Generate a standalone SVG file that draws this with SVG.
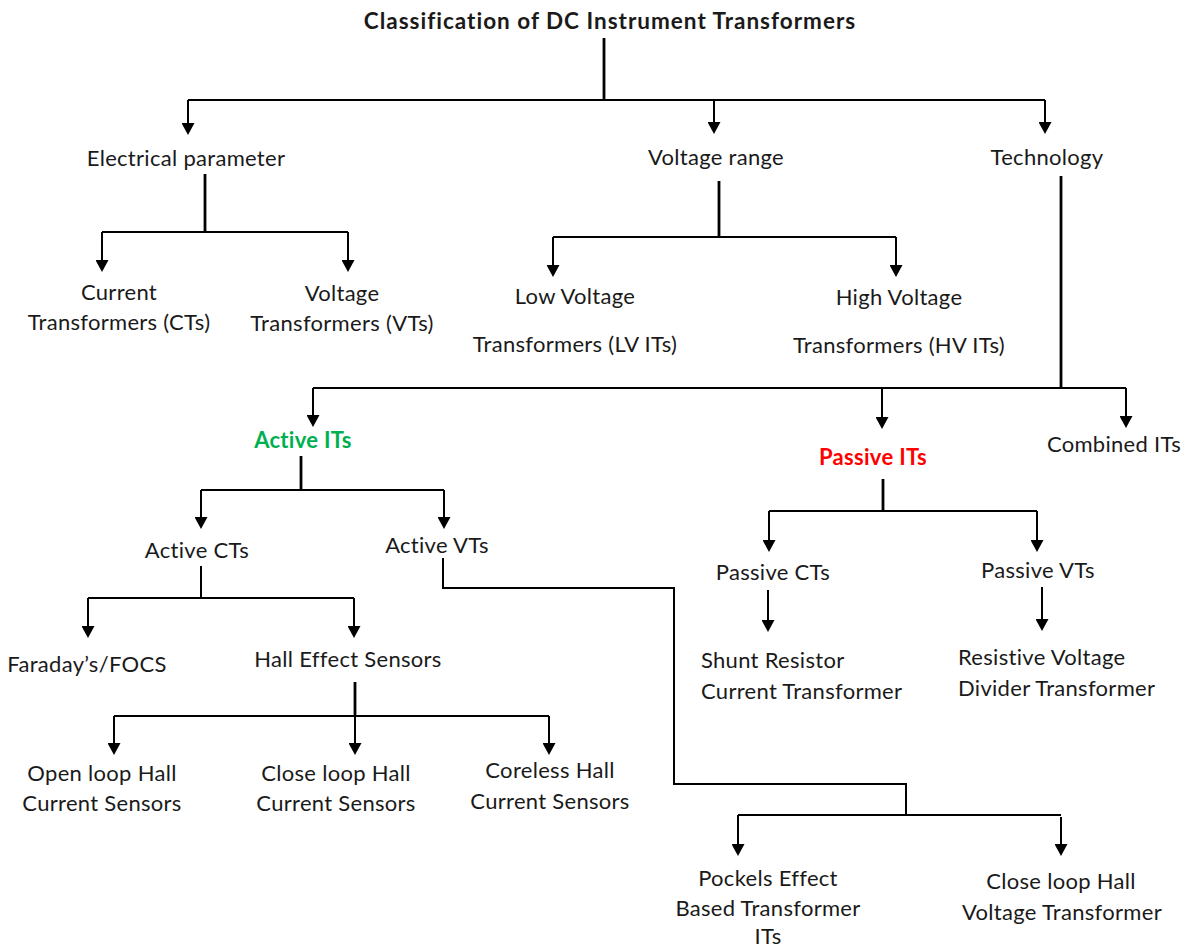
<svg xmlns="http://www.w3.org/2000/svg" width="1189" height="949" viewBox="0 0 1189 949">
<style>
text{font-family:Lato,"Liberation Sans",sans-serif;font-size:22px;letter-spacing:0.3px;fill:#1a1a1a;text-anchor:middle}
.b{font-weight:bold}
.h{font-size:22.5px;letter-spacing:1px}
.l{text-anchor:start}
.c path{fill:none;stroke:#000;stroke-width:2}
.c .a{marker-end:url(#ah)}
.c .t{stroke-width:2.8}
</style>
<defs>
<marker id="ah" markerWidth="13" markerHeight="13" refX="10" refY="6.5" orient="auto" markerUnits="userSpaceOnUse"><path d="M0,0 L12,6.5 L0,13 z" fill="#000"/></marker>
</defs>
<rect width="1189" height="949" fill="#fff"/>
<g class="c" id="connectors">
<path class="t" d="M604,38 V100"/>
<path d="M188,100 H1045"/>
<path class="a" d="M188,100 V133"/>
<path class="a" d="M714,100 V132"/>
<path class="a" d="M1045,100 V132"/>
<path class="t" d="M205,174 V232"/>
<path d="M102,232 H348"/>
<path class="a" d="M102,232 V270"/>
<path class="a" d="M348,232 V270"/>
<path class="t" d="M719,181 V237"/>
<path d="M553,237 H896"/>
<path class="a" d="M553,237 V275"/>
<path class="a" d="M896,237 V275"/>
<path class="t" d="M1061,176 V388"/>
<path d="M313,388 H1126"/>
<path class="a" d="M313,388 V425"/>
<path class="a" d="M882,388 V427"/>
<path class="a" d="M1126,388 V426"/>
<path class="t" d="M301,456 V490"/>
<path d="M201,490 H444"/>
<path class="a" d="M201,490 V527"/>
<path class="a" d="M444,490 V527"/>
<path d="M201,566 V598"/>
<path d="M88,598 H354"/>
<path class="a" d="M88,598 V636"/>
<path class="a" d="M354,598 V636"/>
<path class="t" d="M355,682 V716"/>
<path d="M114,716 H549"/>
<path class="a" d="M114,716 V753"/>
<path class="a" d="M355,716 V753"/>
<path class="a" d="M549,716 V753"/>
<path class="t" d="M883,479 V511"/>
<path d="M769,511 H1037"/>
<path class="a" d="M769,511 V550"/>
<path class="a" d="M1037,511 V550"/>
<path class="a" d="M768,590 V630"/>
<path class="a" d="M1042,587 V629"/>
<path d="M443,558 V588 H674 V784 H906 V815"/>
<path d="M738,815 H1061"/>
<path class="a" d="M738,815 V854"/>
<path class="a" d="M1061,817 V854"/>
</g>
<g id="title"><text class="b h" x="610" y="29">Classification  of DC Instrument Transformers</text></g>
<g id="n-electrical"><text x="186" y="166">Electrical parameter</text></g>
<g id="n-voltage-range"><text x="716" y="165">Voltage range</text></g>
<g id="n-technology"><text x="1047" y="165">Technology</text></g>
<g id="n-ct"><text x="119" y="300">Current</text><text x="119" y="330">Transformers (CTs)</text></g>
<g id="n-vt"><text x="342" y="301">Voltage</text><text x="342" y="331">Transformers (VTs)</text></g>
<g id="n-lv"><text x="575" y="304">Low Voltage</text><text x="575" y="352">Transformers (LV ITs)</text></g>
<g id="n-hv"><text x="899" y="305">High Voltage</text><text x="899" y="353">Transformers (HV ITs)</text></g>
<g id="n-active"><text class="b" x="303" y="448" style="fill:#00b050">Active ITs</text></g>
<g id="n-passive"><text class="b" x="873" y="465" style="fill:#ff0000">Passive ITs</text></g>
<g id="n-combined"><text x="1114" y="452">Combined ITs</text></g>
<g id="n-active-ct"><text x="197" y="558">Active CTs</text></g>
<g id="n-active-vt"><text x="437" y="553">Active VTs</text></g>
<g id="n-faraday"><text x="87" y="672">Faraday’s/FOCS</text></g>
<g id="n-hall"><text x="348" y="667">Hall Effect Sensors</text></g>
<g id="n-open-loop"><text x="102" y="781">Open loop Hall</text><text x="102" y="811">Current Sensors</text></g>
<g id="n-close-loop"><text x="336" y="781">Close loop Hall</text><text x="336" y="811">Current Sensors</text></g>
<g id="n-coreless"><text x="550" y="778">Coreless Hall</text><text x="550" y="809">Current Sensors</text></g>
<g id="n-passive-ct"><text x="773" y="580">Passive CTs</text></g>
<g id="n-passive-vt"><text x="1038" y="578">Passive VTs</text></g>
<g id="n-shunt"><text class="l" x="701" y="668">Shunt Resistor</text><text class="l" x="701" y="699">Current Transformer</text></g>
<g id="n-resistive"><text class="l" x="958" y="665">Resistive Voltage</text><text class="l" x="958" y="696">Divider  Transformer</text></g>
<g id="n-pockels"><text x="768" y="886">Pockels Effect</text><text x="768" y="916">Based Transformer</text><text x="768" y="944">ITs</text></g>
<g id="n-close-loop-vt"><text x="1061" y="889">Close loop Hall</text><text x="1062" y="920">Voltage Transformer</text></g>
</svg>
